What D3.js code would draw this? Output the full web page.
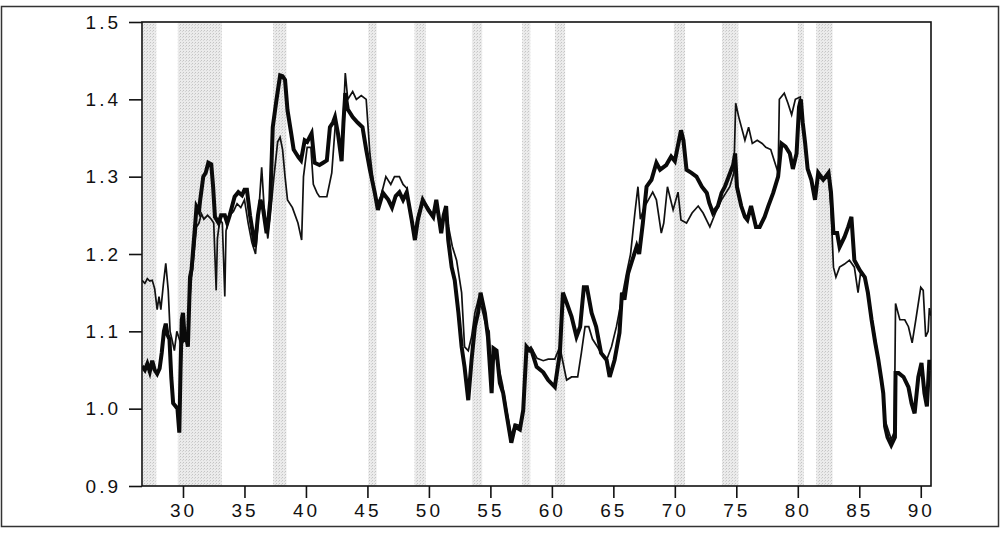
<!DOCTYPE html>
<html>
<head>
<meta charset="utf-8">
<script src="https://cdn.jsdelivr.net/npm/d3@7"></script>
<style>
  html, body { margin: 0; padding: 0; background: #fff; }
  svg { display: block; }
</style>
</head>
<body>
<svg id="chart" width="1002" height="535"></svg>
<script>
// Shaded business-cycle contractions (start / end, years since 1900)
const recessionStart = [26.75, 29.58, 37.33, 45.08, 48.83, 53.5, 57.58, 60.25, 69.92, 73.83, 80.0, 81.5];
const recessionEnd   = [27.83, 33.17, 38.42, 45.75, 49.75, 54.33, 58.25, 61.08, 70.83, 75.17, 80.5, 82.83];

// Heavy series
const yearsA = [26.67,26.9,27.1,27.3,27.5,27.7,27.9,28.1,28.27,28.45,28.6,28.75,28.9,29.05,29.2,29.4,29.55,29.7,29.8,29.9,
  30.0,30.15,30.3,30.4,30.57,30.7,30.84,31.0,31.1,31.3,31.4,31.65,31.85,32.06,32.3,32.45,32.6,32.9,33.1,33.4,
  33.6,33.8,34.0,34.2,34.5,34.8,35.0,35.2,35.45,35.65,35.85,36.1,36.3,36.5,36.8,36.95,37.1,37.3,37.6,37.9,
  38.1,38.3,38.5,38.8,39.0,39.2,39.4,39.6,39.9,40.1,40.46,40.7,41.1,41.4,41.7,41.95,42.2,42.36,42.6,42.9,
  43.05,43.2,43.4,43.8,44.2,44.6,44.9,45.2,45.6,45.85,46.0,46.26,46.7,47.0,47.3,47.6,47.9,48.2,48.6,48.86,
  49.1,49.5,49.95,50.35,50.6,51.0,51.2,51.4,51.57,51.85,52.1,52.4,52.66,52.9,53.2,53.47,53.74,54.0,54.2,54.55,
  54.8,55.1,55.25,55.5,55.77,56.04,56.3,56.7,57.0,57.4,57.67,57.94,58.2,58.35,58.76,59.3,59.7,60.24,60.65,60.9,
  61.2,61.6,62.0,62.3,62.6,62.85,63.23,63.6,64.0,64.45,64.7,65.1,65.5,65.7,65.9,66.2,66.5,66.9,67.1,67.4,
  67.7,68.1,68.5,68.8,69.3,69.7,70.0,70.5,70.7,70.95,71.35,71.76,72.2,72.6,72.8,73.1,73.5,73.8,74.07,74.5,
  74.74,74.9,75.05,75.4,75.7,75.9,76.2,76.6,76.9,77.3,77.6,78.0,78.4,78.67,79.0,79.35,79.6,79.9,80.1,80.25,
  80.4,80.6,80.8,81.1,81.4,81.66,82.07,82.5,82.7,82.9,83.2,83.4,83.8,84.1,84.36,84.6,85.04,85.45,85.7,86.0,
  86.3,86.55,86.8,86.95,87.1,87.3,87.6,87.9,87.95,88.2,88.6,89.0,89.25,89.5,89.8,90.06,90.3,90.5,90.7,90.83];
const seriesA = [1.055,1.05,1.058,1.048,1.062,1.05,1.045,1.052,1.072,1.1,1.11,1.095,1.09,1.04,1.007,1.003,1.0,0.969,1.05,1.115,
  1.124,1.089,1.09,1.08,1.17,1.18,1.209,1.24,1.261,1.255,1.27,1.3,1.305,1.318,1.316,1.287,1.248,1.24,1.25,1.25,
  1.24,1.25,1.262,1.274,1.28,1.276,1.283,1.283,1.25,1.23,1.209,1.25,1.27,1.26,1.227,1.245,1.27,1.364,1.399,1.431,
  1.43,1.425,1.386,1.356,1.335,1.33,1.325,1.321,1.347,1.345,1.356,1.318,1.315,1.318,1.321,1.364,1.37,1.377,1.356,1.32,
  1.37,1.408,1.387,1.377,1.37,1.364,1.335,1.309,1.279,1.257,1.265,1.279,1.27,1.26,1.275,1.28,1.27,1.28,1.244,1.218,
  1.244,1.27,1.257,1.248,1.27,1.227,1.25,1.262,1.218,1.183,1.166,1.124,1.08,1.054,1.011,1.063,1.106,1.124,1.15,1.124,
  1.093,1.02,1.078,1.075,1.033,1.02,0.994,0.956,0.977,0.973,0.998,1.08,1.075,1.075,1.054,1.047,1.037,1.028,1.072,1.15,
  1.137,1.119,1.093,1.106,1.157,1.157,1.124,1.106,1.072,1.063,1.041,1.063,1.098,1.15,1.141,1.175,1.19,1.21,1.2,1.24,
  1.287,1.296,1.318,1.309,1.315,1.326,1.32,1.36,1.347,1.309,1.305,1.3,1.287,1.279,1.266,1.253,1.262,1.279,1.287,1.305,
  1.315,1.33,1.287,1.262,1.248,1.244,1.262,1.235,1.235,1.248,1.262,1.279,1.3,1.343,1.339,1.33,1.31,1.33,1.39,1.40,
  1.37,1.343,1.31,1.296,1.27,1.305,1.296,1.305,1.28,1.227,1.227,1.209,1.222,1.235,1.248,1.192,1.179,1.17,1.15,1.115,
  1.085,1.063,1.037,1.02,0.977,0.963,0.953,0.963,1.046,1.046,1.041,1.028,1.007,0.994,1.041,1.059,1.02,1.003,1.063,1.05];

// Light series
const yearsB = [26.67,26.9,27.1,27.3,27.5,27.7,27.9,28.05,28.2,28.4,28.6,28.8,28.95,29.1,29.3,29.5,29.7,29.9,30.1,30.3,
  30.5,30.7,30.9,31.1,31.3,31.5,31.7,32.0,32.3,32.5,32.7,32.8,33.0,33.2,33.4,33.5,33.8,34.1,34.4,34.7,
  35.0,35.3,35.6,35.9,36.1,36.4,36.6,36.9,37.1,37.4,37.7,37.9,38.1,38.3,38.5,38.9,39.35,39.65,39.8,40.1,
  40.4,40.6,40.9,41.1,41.7,42.1,42.4,42.7,42.9,43.2,43.4,43.8,44.1,44.5,44.9,45.2,45.5,45.8,46.1,46.5,
  46.9,47.2,47.6,47.9,48.2,48.5,48.86,49.1,49.5,49.95,50.35,50.6,51.0,51.4,51.6,51.9,52.25,52.66,52.9,53.2,
  53.47,53.74,54.0,54.3,54.6,54.9,55.1,55.3,55.6,56.0,56.3,56.7,57.0,57.4,57.7,57.95,58.3,58.8,59.3,59.7,
  60.24,60.65,60.9,61.2,61.6,62.1,62.4,62.7,63.0,63.3,63.7,64.0,64.45,64.85,65.25,65.66,66.07,66.4,66.75,67.0,
  67.2,67.5,67.85,68.2,68.5,68.9,69.1,69.4,69.86,70.26,70.5,70.95,71.4,71.9,72.3,72.85,73.3,73.8,74.47,74.8,
  74.95,75.2,75.7,76.0,76.3,76.7,77.1,77.4,77.8,78.1,78.4,78.5,78.9,79.2,79.5,79.8,80.2,80.5,80.8,81.1,
  81.4,81.66,82.07,82.5,82.7,82.9,83.1,83.4,83.8,84.2,84.6,84.9,85.1,85.45,85.7,86.0,86.3,86.8,87.1,87.6,
  87.85,87.95,88.3,88.7,89.0,89.3,89.6,90.0,90.2,90.4,90.6,90.7,90.83];
const seriesB = [1.166,1.162,1.168,1.165,1.166,1.155,1.128,1.145,1.128,1.16,1.188,1.153,1.1,1.09,1.075,1.1,1.09,1.08,1.095,1.085,
  1.13,1.17,1.2,1.235,1.24,1.252,1.245,1.25,1.245,1.24,1.153,1.22,1.245,1.24,1.145,1.23,1.25,1.255,1.265,1.26,
  1.27,1.24,1.215,1.2,1.24,1.312,1.26,1.22,1.25,1.3,1.345,1.351,1.335,1.3,1.27,1.26,1.24,1.218,1.3,1.338,
  1.338,1.29,1.279,1.274,1.274,1.305,1.37,1.35,1.325,1.434,1.4,1.41,1.4,1.405,1.4,1.33,1.29,1.265,1.275,1.3,
  1.29,1.3,1.3,1.29,1.285,1.25,1.23,1.25,1.27,1.26,1.25,1.265,1.235,1.26,1.235,1.21,1.192,1.15,1.08,1.075,
  1.093,1.124,1.14,1.13,1.11,1.1,1.04,1.07,1.06,1.03,1.0,0.965,0.98,0.978,1.0,1.075,1.08,1.065,1.062,1.064,
  1.064,1.08,1.06,1.037,1.041,1.041,1.072,1.106,1.106,1.09,1.08,1.072,1.063,1.08,1.106,1.14,1.175,1.2,1.253,1.287,
  1.245,1.26,1.27,1.28,1.27,1.227,1.24,1.287,1.257,1.28,1.244,1.24,1.253,1.262,1.253,1.235,1.253,1.27,1.287,1.305,
  1.395,1.377,1.347,1.364,1.343,1.347,1.343,1.338,1.335,1.32,1.305,1.4,1.408,1.395,1.38,1.4,1.403,1.36,1.31,1.296,
  1.27,1.3,1.295,1.3,1.26,1.183,1.17,1.183,1.187,1.192,1.183,1.15,1.175,1.17,1.15,1.12,1.09,1.04,0.985,0.96,
  0.97,1.136,1.115,1.115,1.106,1.085,1.115,1.157,1.153,1.093,1.1,1.13,1.12];

// Axis ticks
const xTicks = [30, 35, 40, 45, 50, 55, 60, 65, 70, 75, 80, 85, 90];
const yTicks = [0.9, 1.0, 1.1, 1.2, 1.3, 1.4, 1.5];

const svg = d3.select("#chart");
const plot = { left: 142, right: 931, top: 22, bottom: 486 };

const x = d3.scaleLinear().domain([26.667, 90.833]).range([plot.left, plot.right]);
const y = d3.scaleLinear().domain([0.9, 1.5]).range([plot.bottom, plot.top]);

// outer frame
svg.append("rect")
  .attr("x", 1.5).attr("y", 6.5).attr("width", 997).attr("height", 520)
  .attr("fill", "none").attr("stroke", "#333").attr("stroke-width", 1.5);

// stippled fill for shaded periods
const defs = svg.append("defs");
const pat = defs.append("pattern")
  .attr("id", "stipple").attr("patternUnits", "userSpaceOnUse")
  .attr("width", 3).attr("height", 3);
pat.append("rect").attr("width", 3).attr("height", 3).attr("fill", "#ebebeb");
pat.append("rect").attr("x", 0).attr("y", 0).attr("width", 1).attr("height", 1).attr("fill", "#c4c4c4");
pat.append("rect").attr("x", 2).attr("y", 1).attr("width", 1).attr("height", 1).attr("fill", "#d4d4d4");

defs.append("clipPath").attr("id", "plotClip")
  .append("rect")
  .attr("x", plot.left).attr("y", plot.top)
  .attr("width", plot.right - plot.left).attr("height", plot.bottom - plot.top);

svg.append("g").attr("clip-path", "url(#plotClip)")
  .selectAll("rect")
  .data(recessionStart.map((s, i) => [s, recessionEnd[i]]))
  .join("rect")
  .attr("x", d => x(d[0]))
  .attr("width", d => x(d[1]) - x(d[0]))
  .attr("y", plot.top)
  .attr("height", plot.bottom - plot.top)
  .attr("fill", "url(#stipple)");

// series lines
const lines = svg.append("g").attr("clip-path", "url(#plotClip)");
const lineGen = d3.line().x(d => x(d[0])).y(d => y(d[1]));

lines.append("path")
  .datum(yearsB.map((t, i) => [t, seriesB[i]]))
  .attr("d", lineGen)
  .attr("fill", "none").attr("stroke", "#111").attr("stroke-width", 1.7)
  .attr("stroke-linejoin", "miter");

lines.append("path")
  .datum(yearsA.map((t, i) => [t, seriesA[i]]))
  .attr("d", lineGen)
  .attr("fill", "none").attr("stroke", "#0a0a0a").attr("stroke-width", 4)
  .attr("stroke-linejoin", "miter");

// plot border
svg.append("rect")
  .attr("x", plot.left).attr("y", plot.top)
  .attr("width", plot.right - plot.left).attr("height", plot.bottom - plot.top)
  .attr("fill", "none").attr("stroke", "#111").attr("stroke-width", 1.6);

// axes
const fontStyle = sel => sel.selectAll("text")
  .attr("font-family", "'Liberation Sans', Arial, sans-serif")
  .attr("font-size", 19).attr("fill", "#111")
  .style("letter-spacing", "3px");

const xAxis = svg.append("g")
  .attr("transform", `translate(0,${plot.bottom})`)
  .call(d3.axisBottom(x).tickValues(xTicks).tickSize(12).tickPadding(6).tickFormat(d3.format("d")));
xAxis.select(".domain").remove();
xAxis.selectAll("line").attr("stroke", "#111").attr("stroke-width", 1.6);
fontStyle(xAxis);

const yAxis = svg.append("g")
  .attr("transform", `translate(${plot.left},0)`)
  .call(d3.axisLeft(y).tickValues(yTicks).tickSize(13).tickPadding(8).tickFormat(d3.format(".1f")));
yAxis.select(".domain").remove();
yAxis.selectAll("line").attr("stroke", "#111").attr("stroke-width", 1.6);
fontStyle(yAxis);
</script>
</body>
</html>
